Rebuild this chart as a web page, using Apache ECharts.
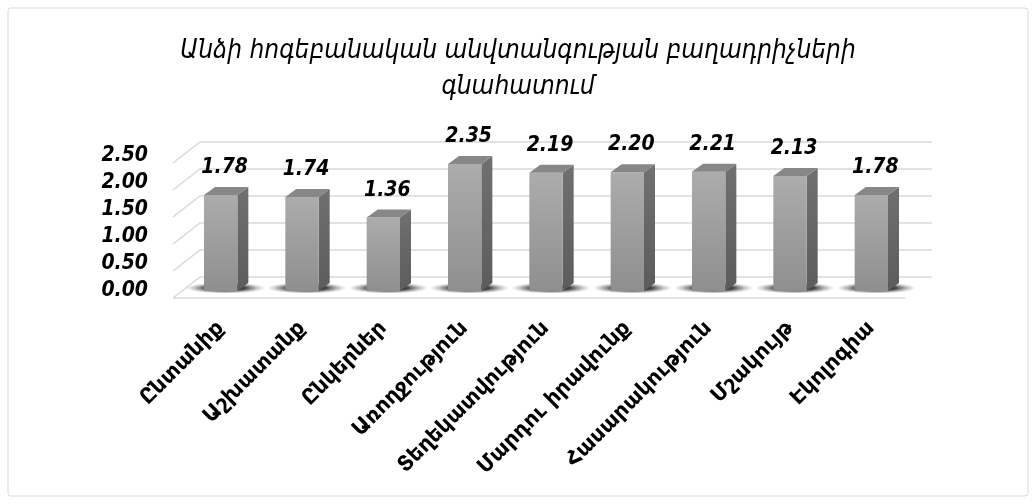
<!DOCTYPE html>
<html><head><meta charset="utf-8">
<script src="https://cdn.jsdelivr.net/npm/echarts@6/dist/echarts.min.js"></script>
<style>html,body{margin:0;padding:0;background:#fff}#c{width:1036px;height:504px}</style>
</head><body><div id="c"></div>
<script>
const titleText = 'Անձի հոգեբանական անվտանգության բաղադրիչների\nգնահատում';
const categories = ['Ընտանիք','Աշխատանք','Ընկերներ','Առողջություն','Տեղեկատվություն','Մարդու իրավունք','Հասարակություն','Մշակույթ','Էկոլոգիա'];
const values = [1.78, 1.74, 1.36, 2.35, 2.19, 2.20, 2.21, 2.13, 1.78];
const yTicks = [0, 0.5, 1.0, 1.5, 2.0, 2.5];

const FONT = 'DejaVu Sans';
const FONTC = 'DejaVu Sans Condensed';
const chart = echarts.init(document.getElementById('c'));

function renderFrame(params, api) {
  const cs = params.coordSys;
  const L = cs.x, R = cs.x + cs.width;
  const y = api.coord([0, api.value(1)])[1];
  const st = {stroke: '#d9d9d9', lineWidth: 1.5, fill: null};
  const kids = [{type: 'polyline', shape: {points: [[L - 7, y + 7], [L + 20, y - 14], [R + 20, y - 14]]}, style: st}];
  if (api.value(1) === 0) {
    kids.push({type: 'line', shape: {x1: L - 7, y1: y + 7, x2: R - 7, y2: y + 7}, style: st});
  }
  return {type: 'group', children: kids};
}

function renderBar(params, api) {
  const idx = api.value(0), v = api.value(1);
  const top = api.coord([idx, v]);
  const base = api.coord([idx, 0]);
  const cw = api.size([1, 0])[0];
  const w = cw * 0.41;
  const dx = 11, dy = -8;
  const cx = top[0];
  const l = cx - w / 2, r = cx + w / 2;
  const t = top[1], b = base[1];
  return {type: 'group', children: [
    {type: 'circle', shape: {cx: 0, cy: 0, r: 40}, x: cx + 5, y: b - 3, scaleY: 0.14,
      style: {fill: {type: 'radial', x: 0.5, y: 0.5, r: 0.5, colorStops: [
        {offset: 0, color: 'rgba(25,25,25,1)'}, {offset: 0.5, color: 'rgba(40,40,40,0.85)'}, {offset: 1, color: 'rgba(140,140,140,0)'}]}}},
    {type: 'polygon', shape: {points: [[r, t], [r + dx, t + dy], [r + dx, b + dy], [r, b]]},
      style: {fill: {type: 'linear', x: 0, y: 0, x2: 0, y2: 1, colorStops: [
        {offset: 0, color: '#707070'}, {offset: 1, color: '#5c5c5c'}]}}},
    {type: 'rect', shape: {x: l, y: t, width: w, height: b - t},
      style: {fill: {type: 'linear', x: 0, y: 0, x2: 0, y2: 1, colorStops: [
        {offset: 0, color: '#acacac'}, {offset: 1, color: '#8f8f8f'}]}}},
    {type: 'polygon', shape: {points: [[l, t], [l + dx, t + dy], [r + dx, t + dy], [r, t]]},
      style: {fill: '#878787'}},
    {type: 'text', x: cx + 4, y: t + dy - 9,
      style: {text: v.toFixed(2), align: 'center', verticalAlign: 'bottom',
        font: 'italic bold 21px "' + FONTC + '"', fill: '#000'}}
  ]};
}

chart.setOption({
  animation: false,
  backgroundColor: '#fff',
  graphic: [{type: 'rect', shape: {x: 8, y: 8, width: 1020, height: 488, r: 3},
    style: {fill: 'none', stroke: '#d9d9d9', lineWidth: 1}, silent: true}],
  title: {text: titleText, left: 'center', top: 28,
    textStyle: {fontFamily: FONTC, fontStyle: 'italic', fontWeight: 'normal', fontSize: 26, lineHeight: 36, color: '#000'}},
  grid: {left: 180, right: 124, top: 156, bottom: 213, containLabel: false},
  xAxis: {type: 'category', data: categories,
    axisLine: {show: false}, axisTick: {show: false},
    axisLabel: {rotate: 45, margin: 34, interval: 0, fontFamily: FONT, fontWeight: 'bold', fontSize: 21, color: '#000'}},
  yAxis: {type: 'value', min: 0, max: 2.5, interval: 0.5,
    axisLine: {show: false}, axisTick: {show: false}, splitLine: {show: false},
    axisLabel: {margin: 32, padding: [14, 0, 0, 0], fontFamily: FONTC, fontStyle: 'italic', fontWeight: 'bold', fontSize: 21, color: '#000',
      formatter: v => v.toFixed(2)}},
  series: [
    {type: 'custom', name: 'frame', renderItem: renderFrame, data: yTicks.map(v => [0, v]), z: 1, silent: true},
    {type: 'custom', name: 'bars', renderItem: renderBar, data: values.map((v, i) => [i, v]), z: 2}
  ]
});
</script></body></html>
